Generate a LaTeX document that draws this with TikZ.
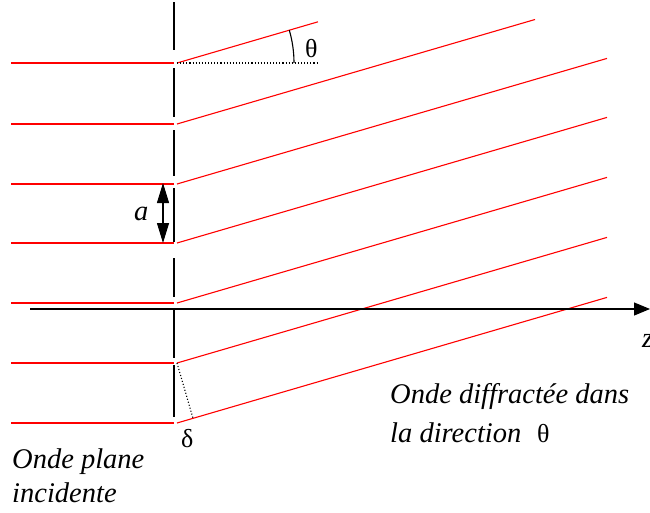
\documentclass[tikz,border=0pt]{standalone}
\usepackage{fontspec}
\setmainfont{Liberation Serif}
\usetikzlibrary{arrows.meta}
\begin{document}
\begin{tikzpicture}[x=1pt,y=-1pt,
  ray/.style={red,line width=1.1pt},
  wall/.style={black,line width=1.1pt},
  lbl/.style={font=\fontsize{28.5}{34}\selectfont\itshape, inner sep=0pt, anchor=base west},
  greek/.style={font=\fontsize{26}{30}\selectfont, inner sep=0pt, anchor=base west}]
\useasboundingbox (0,0) rectangle (650,512);
% slits
\foreach \i/\y in {1/63,2/124,3/184,4/243,5/303,6/363,7/423}{
  \coordinate (h\i) at (11,\y);
  \coordinate (s\i) at (174,\y);
  \coordinate (o\i) at (177,\y);
}
\coordinate (e1) at (318,21.8);
\coordinate (e2) at (535,19.5);
\coordinate (e3) at (607,58.4);
\coordinate (e4) at (607,117.4);
\coordinate (e5) at (607,177.4);
\coordinate (e6) at (607,237.4);
\coordinate (e7) at (607,297.4);
% incident and diffracted rays
\foreach \i in {1,...,7}{
  \draw[ray] (h\i) -- (s\i);
  \draw[ray] (o\i) -- (e\i);
}
% wall
\foreach \a/\b in {2/50,68/117,130/176,188/242,258/297,308/358,365/417}{
  \draw[wall] (174,\a) -- (174,\b);
}
% axis
\coordinate (z0) at (30,309);
\coordinate (z1) at (650,309);
\draw[wall,-{Triangle[length=16pt,width=13pt]}] (z0) -- (z1);
\node[lbl] (zl) at (642,347) {z};
% angle theta
\coordinate (d1) at (318,63);
\draw[wall,dotted] (o1) -- (d1);
\draw[line width=1.1pt] (o1) ++(117,0) arc[start angle=0,end angle=-16.3,radius=117];
\node[greek] (th1) at (305,57) {θ};
% spacing a
\coordinate (a1) at (163,183);
\coordinate (a2) at (163,243);
\draw[wall,{Triangle[length=20pt,width=12pt]}-{Triangle[length=20pt,width=12pt]}] (a1) -- (a2);
\node[lbl] (al) at (134,220) {a};
% path difference delta
\coordinate (f) at (193,418.3);
\draw[wall,dotted] (o6) -- (f);
\node[greek] (dl) at (181,447) {δ};
% texts
\node[lbl] (t1) at (390,403) {Onde diffractée dans};
\node[lbl] (t2) at (390,442) {la direction};
\node[greek] (th2) at (537,442) {θ};
\node[lbl] (t3) at (12,468) {Onde plane};
\node[lbl] (t4) at (12,502) {incidente};
\end{tikzpicture}
\end{document}
